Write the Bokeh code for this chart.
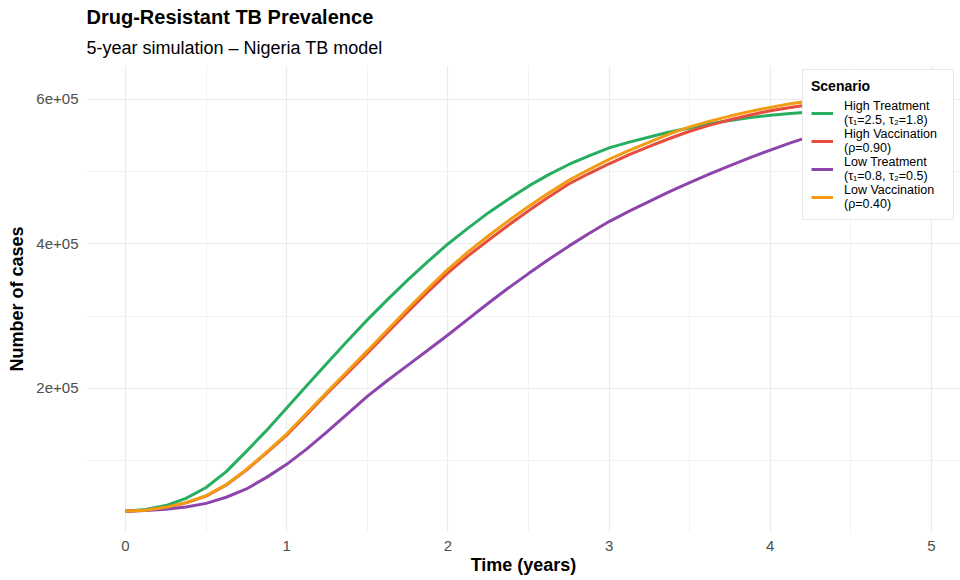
from bokeh.plotting import figure
from bokeh.models import Range1d, FixedTicker, Legend, LegendItem, Title
from bokeh.embed import file_html
from bokeh.resources import INLINE

# ---- data (values in cases) ----
time_years = [0, 0.125, 0.25, 0.375, 0.5, 0.625, 0.75, 0.875, 1, 1.125, 1.25, 1.375,
              1.5, 1.625, 1.75, 1.875, 2, 2.125, 2.25, 2.375, 2.5, 2.625, 2.75, 2.875,
              3, 3.125, 3.25, 3.375, 3.5, 3.625, 3.75, 3.875, 4, 4.125, 4.25, 4.375,
              4.5, 4.625, 4.75, 4.875, 5]
high_treatment = [30000, 32500, 38000, 48000, 63000, 85000, 113000, 142000, 173000,
                  204000, 235000, 265500, 295000, 323000, 350000, 375500, 400000,
                  422000, 443000, 462000, 480000, 496000, 510000, 522000, 533000,
                  541000, 548000, 555000, 560500, 566500, 571000, 575000, 578000,
                  580500, 582500, 584500, 586000, 587500, 589000, 590000, 591000]
high_vaccination = [30000, 31500, 35300, 41700, 51000, 66500, 87000, 111000, 135500,
                    164000, 193000, 221000, 249000, 277500, 306000, 333500, 360000,
                    383500, 405000, 426000, 446000, 465000, 483000, 497500, 511000,
                    523500, 535000, 546000, 556000, 564500, 572000, 578500, 584500,
                    589000, 593000, 596500, 600000, 603000, 606000, 608500, 611000]
low_treatment = [30000, 31000, 33000, 36000, 41000, 49500, 61000, 77000, 95000,
                 116500, 140000, 164500, 189000, 211000, 232000, 253000, 274000,
                 296000, 318000, 339000, 359000, 378500, 397000, 414500, 431000,
                 445500, 459000, 472500, 485000, 497000, 508500, 519500, 530000,
                 540000, 549000, 557000, 564000, 570000, 576000, 581000, 586000]
low_vaccination = [30000, 31500, 35500, 42000, 51500, 67000, 88000, 112000, 137000,
                   166000, 195000, 223500, 252000, 281000, 310000, 338000, 365000,
                   389000, 411000, 432000, 452000, 470500, 488000, 503000, 517000,
                   529500, 541000, 552500, 562000, 570000, 577000, 583500, 589000,
                   594000, 598000, 601500, 605000, 608000, 611000, 613500, 616000]

scenario_labels = ["High Treatment\n(\u03c4\u2081=2.5, \u03c4\u2082=1.8)",
                   "High Vaccination\n(\u03c1=0.90)",
                   "Low Treatment\n(\u03c4\u2081=0.8, \u03c4\u2082=0.5)",
                   "Low Vaccination\n(\u03c1=0.40)"]
scenario_colors = ["#27AE60", "#E74C3C", "#8E44AD", "#F39C12"]
series = [high_treatment, high_vaccination, low_treatment, low_vaccination]

x_ticks = [0, 1, 2, 3, 4, 5]
x_minor = [0.5, 1.5, 2.5, 3.5, 4.5]
y_ticks = [200000, 400000, 600000]
y_minor = [100000, 300000, 500000]
y_tick_labels = ["2e+05", "4e+05", "6e+05"]

FONT = "Liberation Sans"

p = figure(width=960, height=580, output_backend="svg", toolbar_location=None,
           title=None,
           x_range=Range1d(-0.242, 5.18), y_range=Range1d(700, 647000),
           min_border_left=86, min_border_right=0, min_border_top=65,
           min_border_bottom=48)
p.outline_line_color = None
p.background_fill_color = "white"
p.border_fill_color = "white"

renderers = []
for ys, col in zip(series, scenario_colors):
    r = p.line(time_years, ys, line_color=col, line_width=3)
    renderers.append(r)

# axes
p.xaxis.ticker = FixedTicker(ticks=x_ticks, minor_ticks=x_minor)
p.yaxis.ticker = FixedTicker(ticks=y_ticks, minor_ticks=y_minor)
p.yaxis.major_label_overrides = {t: l for t, l in zip(y_ticks, y_tick_labels)}
for ax in (p.xaxis, p.yaxis):
    ax.axis_line_color = None
    ax.major_tick_line_color = None
    ax.minor_tick_line_color = None
    ax.major_tick_out = 0
    ax.minor_tick_out = 0
    ax.major_tick_in = 0
    ax.minor_tick_in = 0
    ax.major_label_text_font = FONT
    ax.major_label_text_font_size = "15px"
    ax.major_label_text_color = "#4D4D4D"
    ax.axis_label_text_font = FONT
    ax.axis_label_text_font_size = "18px"
    ax.axis_label_text_font_style = "bold"
    ax.axis_label_text_color = "black"
p.xaxis.axis_label = "Time (years)"
p.yaxis.axis_label = "Number of cases"
p.xaxis.major_label_standoff = 8
p.xaxis.axis_label_standoff = 1
p.yaxis.major_label_standoff = 8
p.yaxis.axis_label_standoff = 6

# grid
for g in (p.xgrid, p.ygrid):
    g.grid_line_color = "#EBEBEB"
    g.grid_line_width = 1.2
    g.minor_grid_line_color = "#F3F3F3"
    g.minor_grid_line_width = 1

# titles
sub = Title(text="5-year simulation \u2013 Nigeria TB model", align="left",
            text_font=FONT, text_font_size="18px", text_font_style="normal",
            text_color="black", standoff=16)
main = Title(text="Drug-Resistant TB Prevalence", align="left",
             text_font=FONT, text_font_size="20px", text_font_style="bold",
             text_color="black", standoff=0)
p.add_layout(sub, "above")
p.add_layout(main, "above")

# legend
items = [LegendItem(label=lab, renderers=[r]) for lab, r in zip(scenario_labels, renderers)]
legend = Legend(items=items, location=(716, 312), title="Scenario",
                title_text_font=FONT, title_text_font_size="14px",
                title_text_font_style="bold", title_text_color="black",
                label_text_font=FONT, label_text_font_size="12.5px",
                label_text_color="black", label_text_line_height=0.92,
                glyph_width=22, glyph_height=20, label_width=101,
                spacing=0, padding=8, margin=0, label_standoff=11,
                border_line_color="#D0D0D0", border_line_width=1.5,
                background_fill_color="white", background_fill_alpha=1)
p.add_layout(legend, "center")

open("out.html", "w").write(file_html(p, INLINE))
